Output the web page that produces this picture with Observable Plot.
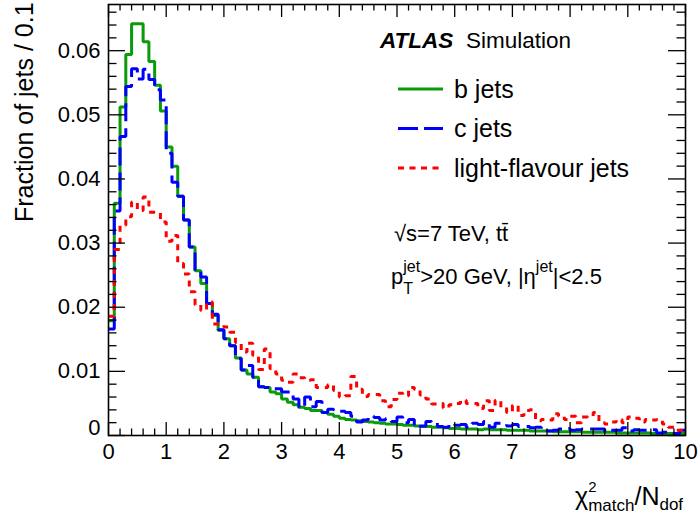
<!DOCTYPE html>
<html><head><meta charset="utf-8">
<script src="https://cdn.jsdelivr.net/npm/d3@7"></script>
<script src="https://cdn.jsdelivr.net/npm/@observablehq/plot@0.6"></script>
<style>
body{margin:0;background:#fff}
svg{font-family:"Liberation Sans",Arial,Helvetica,sans-serif}
</style>
</head><body><div id="chart"></div>
<script>
// histogram bin width 0.1, bins from 0 to 10
const binWidth = 0.1;
const bJets = [0.0179,0.0362,0.0512,0.0594,0.0642,0.0642,0.0614,0.0583,0.0546,0.0506,
 0.0450,0.0420,0.0373,0.0336,0.0294,0.0257,0.0237,0.0206,0.0187,0.0164,
 0.0151,0.0140,0.0121,0.0102,0.0096,0.0091,0.0076,0.0075,0.0068,0.0065,
 0.0057,0.0052,0.0048,0.0044,0.0042,0.0039,0.0039,0.0036,0.0033,0.0030,
 0.0027,0.0025,0.0024,0.0023,0.0022,0.0021,0.0020,0.0019,0.0018,0.0018,
 0.0017,0.0016,0.0016,0.0015,0.0014,0.0014,0.0013,0.0013,0.0012,0.0011,
 0.0011,0.0010,0.0010,0.0010,0.0009,0.0010,0.0009,0.0009,0.0009,0.0008,
 0.0008,0.0008,0.0008,0.0007,0.0007,0.0007,0.0007,0.0006,0.0006,0.0006,
 0.0006,0.0006,0.0005,0.0005,0.0005,0.0005,0.0005,0.0005,0.0004,0.0004,
 0.0004,0.0004,0.0004,0.0004,0.0003,0.0003,0.0003,0.0003,0.0003,0.0003];
const cJets = [0.0166,0.0350,0.0466,0.0544,0.0572,0.0556,0.0571,0.0555,0.0539,0.0523,
 0.0440,0.0395,0.0373,0.0336,0.0294,0.0257,0.0247,0.0206,0.0189,0.0165,
 0.0151,0.0140,0.0120,0.0102,0.0109,0.0091,0.0076,0.0075,0.0073,0.0073,
 0.0068,0.0068,0.0057,0.0044,0.0060,0.0045,0.0053,0.0036,0.0041,0.0040,
 0.0038,0.0036,0.0030,0.0021,0.0024,0.0030,0.0028,0.0024,0.0026,0.0022,
 0.0029,0.0020,0.0025,0.0013,0.0015,0.0022,0.0021,0.0014,0.0013,0.0018,
 0.0016,0.0017,0.0013,0.0019,0.0017,0.0022,0.0013,0.0019,0.0019,0.0015,
 0.0017,0.0014,0.0014,0.0012,0.0013,0.0008,0.0007,0.0008,0.0010,0.0011,
 0.0008,0.0009,0.0010,0.0010,0.0010,0.0010,0.0006,0.0008,0.0008,0.0012,
 0.0007,0.0009,0.0008,0.0008,0.0009,0.0004,0.0005,0.0004,0.0003,0.0008];
const lightJets = [0.0186,0.0290,0.0328,0.0341,0.0364,0.0351,0.0372,0.0348,0.0348,0.0333,
 0.0303,0.0312,0.0268,0.0252,0.0224,0.0204,0.0195,0.0208,0.0174,0.0174,
 0.0169,0.0161,0.0145,0.0130,0.0144,0.0125,0.0103,0.0135,0.0104,0.0096,
 0.0086,0.0083,0.0096,0.0090,0.0086,0.0087,0.0075,0.0075,0.0079,0.0070,
 0.0060,0.0062,0.0092,0.0072,0.0061,0.0064,0.0064,0.0054,0.0045,0.0056,
 0.0066,0.0062,0.0075,0.0072,0.0063,0.0057,0.0049,0.0050,0.0043,0.0048,
 0.0050,0.0055,0.0050,0.0050,0.0042,0.0054,0.0039,0.0055,0.0044,0.0036,
 0.0047,0.0031,0.0039,0.0040,0.0023,0.0025,0.0024,0.0034,0.0030,0.0025,
 0.0030,0.0020,0.0029,0.0030,0.0036,0.0020,0.0018,0.0021,0.0025,0.0020,
 0.0029,0.0027,0.0021,0.0025,0.0024,0.0025,0.0018,0.0013,0.0008,0.0008];

const seriesNames = ["b jets", "c jets", "light-flavour jets"];
const xTicks = [0,1,2,3,4,5,6,7,8,9,10];
const yTicks = [0,0.01,0.02,0.03,0.04,0.05,0.06];
const yTickLabels = ["0","0.01","0.02","0.03","0.04","0.05","0.06"];
const xDomain = [0, 10];
const yDomain = [0, 0.0672];

// styles
const colors = ["#0a9a0a", "#0000ff", "#ff0000"];
const dashes = [null, "18,7", "6,6"];
const W = 700, H = 515, mL = 108, mR = 15, mT = 4, mB = 80;

function steps(vals) {
  const pts = vals.map((v, i) => ({x: +(i * binWidth).toFixed(2), y: v}));
  pts.push({x: vals.length * binWidth, y: vals[vals.length - 1]});
  return pts;
}
const series = [bJets, cJets, lightJets].map(steps);

const pxX = (xDomain[1] - xDomain[0]) / (W - mL - mR);
const pxY = (yDomain[1] - yDomain[0]) / (H - mT - mB);
const xMinor = d3.range(0, 10.001, 0.2).map(d => +d.toFixed(2)).filter(d => Math.abs(d - Math.round(d)) > 1e-6);
const yMinor = d3.range(0, 0.0671, 0.002).map(d => +d.toFixed(4)).filter(d => Math.abs(d * 100 - Math.round(d * 100)) > 1e-6);

const tickStyle = {stroke: "black", strokeWidth: 1.3};
const chart = Plot.plot({
  width: W, height: H,
  marginLeft: mL, marginRight: mR, marginTop: mT, marginBottom: mB,
  x: {domain: xDomain, axis: null},
  y: {domain: yDomain, axis: null},
  style: {fontFamily: "Liberation Sans, Arial, sans-serif", background: "white", overflow: "visible"},
  marks: [
    ...series.map((s, i) => Plot.line(s, {x: "x", y: "y", curve: "step-after",
      stroke: colors[i], strokeWidth: 3, strokeDasharray: dashes[i], strokeLinecap: "butt", strokeLinejoin: "miter"})),
    Plot.ruleX(xTicks, {x: d => d, y1: yDomain[0], y2: yDomain[0] + 13 * pxY, ...tickStyle}),
    Plot.ruleX(xMinor, {x: d => d, y1: yDomain[0], y2: yDomain[0] + 6.5 * pxY, ...tickStyle}),
    Plot.ruleX(xTicks, {x: d => d, y1: yDomain[1], y2: yDomain[1] - 13 * pxY, ...tickStyle}),
    Plot.ruleX(xMinor, {x: d => d, y1: yDomain[1], y2: yDomain[1] - 6.5 * pxY, ...tickStyle}),
    Plot.ruleY(yTicks, {y: d => d, x1: xDomain[0], x2: xDomain[0] + 17 * pxX, ...tickStyle}),
    Plot.ruleY(yMinor, {y: d => d, x1: xDomain[0], x2: xDomain[0] + 8.5 * pxX, ...tickStyle}),
    Plot.ruleY(yTicks, {y: d => d, x1: xDomain[1], x2: xDomain[1] - 17 * pxX, ...tickStyle}),
    Plot.ruleY(yMinor, {y: d => d, x1: xDomain[1], x2: xDomain[1] - 8.5 * pxX, ...tickStyle}),
    Plot.frame({stroke: "black", strokeWidth: 1.6}),
    Plot.text(xTicks, {x: d => d, y: yDomain[0], text: d => String(d), dy: 16, fontSize: 22, fill: "black", lineAnchor: "middle"}),
    Plot.text(yTicks.slice(1), {x: xDomain[0], y: d => d, text: (d, i) => yTickLabels[i + 1], textAnchor: "end", dx: -8, fontSize: 22, fill: "black", lineAnchor: "middle"}),
    Plot.text(yTicks.slice(0, 1), {x: xDomain[0], y: d => d, text: () => yTickLabels[0], textAnchor: "end", dx: -8, dy: -8, fontSize: 22, fill: "black", lineAnchor: "middle"})
  ]
});

const svg = d3.select(chart);
const ann = svg.append("g").attr("text-anchor", "start").attr("fill", "black");
// y-axis title
ann.append("text").attr("transform", "translate(33,222) rotate(-90)")
  .attr("font-size", 25).attr("text-anchor", "start").text("Fraction of jets / 0.1");
// x-axis title
const xt = ann.append("text").attr("x", 575).attr("y", 505).attr("font-size", 25).attr("text-anchor", "start");
xt.append("tspan").text("χ");
xt.append("tspan").attr("font-size", 15).attr("dy", -13).text("2");
xt.append("tspan").attr("font-size", 17).attr("dx", -8.3).attr("dy", 19).text("match");
xt.append("tspan").attr("font-size", 25).attr("dy", -6).text("/N");
xt.append("tspan").attr("font-size", 17).attr("dy", 5).text("dof");

// ATLAS label
ann.append("text").attr("x", 380).attr("y", 48).attr("font-size", 22.5).attr("text-anchor", "start")
  .attr("font-weight", "bold").attr("font-style", "italic").text("ATLAS");
ann.append("text").attr("x", 466).attr("y", 48).attr("font-size", 22.5).attr("text-anchor", "start").text("Simulation");

// legend
const legY = [89, 128.5, 168];
seriesNames.forEach((name, i) => {
  ann.append("line").attr("x1", 398).attr("x2", 443).attr("y1", legY[i]).attr("y2", legY[i])
    .attr("stroke", colors[i]).attr("stroke-width", 3).attr("stroke-dasharray", dashes[i] ? (i === 1 ? "20,6" : "6,5.5") : null);
  ann.append("text").attr("x", 454).attr("y", legY[i] + 8.5).attr("font-size", 25).attr("text-anchor", "start").text(name);
});

// energy / selection text
ann.append("text").attr("x", 394).attr("y", 241).attr("font-size", 22).attr("text-anchor", "start").text("√s=7 TeV, tt\u0304");
const pt = ann.append("text").attr("x", 391).attr("y", 284).attr("font-size", 22).attr("text-anchor", "start");
pt.append("tspan").text("p");
pt.append("tspan").attr("font-size", 16).attr("dy", -12).text("jet");
pt.append("tspan").attr("font-size", 16).attr("dx", -16.9).attr("dy", 22).text("T");
pt.append("tspan").attr("font-size", 22).attr("dx", 7.2).attr("dy", -10).text(">20 GeV, |η");
pt.append("tspan").attr("font-size", 16).attr("dy", -12).text("jet");
pt.append("tspan").attr("font-size", 22).attr("dy", 12).text("|<2.5");

document.getElementById("chart").appendChild(chart);
</script>
</body></html>
